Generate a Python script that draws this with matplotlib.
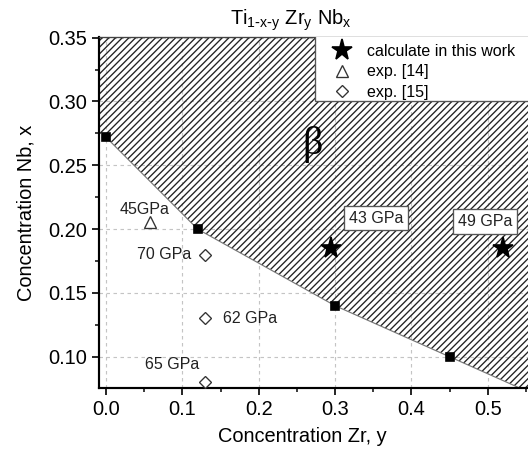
import matplotlib
matplotlib.use("Agg")
import matplotlib.pyplot as plt
from matplotlib.patches import Polygon, Rectangle
from matplotlib.ticker import MultipleLocator
import numpy as np

# Ti-Zr-Nb: beta-stability boundary and elastic moduli
boundary_zr = [0.0, 0.12, 0.30, 0.45]
boundary_nb = [0.272, 0.20, 0.14, 0.10]

calc_zr = [0.295, 0.52]
calc_nb = [0.185, 0.185]
calc_labels = ["43 GPa", "49 GPa"]

exp14_zr = [0.058]
exp14_nb = [0.2055]
exp14_labels = ["45GPa"]

exp15_zr = [0.13, 0.13, 0.13]
exp15_nb = [0.18, 0.13, 0.08]
exp15_labels = ["70 GPa", "62 GPa", "65 GPa"]

DPI = 120
plt.rcParams["font.family"] = ["Liberation Sans", "DejaVu Sans"]
plt.rcParams["hatch.linewidth"] = 0.8

fig = plt.figure(figsize=(528 / DPI, 450 / DPI), dpi=DPI)
ax = fig.add_axes([99 / 528, 62 / 450, 434.5 / 528, 351 / 450])

xmin, xmax = -0.0092, 0.56
ymin, ymax = 0.0755, 0.3505
ax.set_xlim(xmin, xmax)
ax.set_ylim(ymin, ymax)

# hatched beta region above the boundary, extended to the axes edges
slope = (boundary_nb[-1] - boundary_nb[-2]) / (boundary_zr[-1] - boundary_zr[-2])
right_nb = boundary_nb[-1] + slope * (xmax - boundary_zr[-1])
verts = [(xmin, boundary_nb[0])]
verts += list(zip(boundary_zr, boundary_nb))
verts += [(xmax, right_nb), (xmax, ymax), (xmin, ymax)]
ax.add_patch(Polygon(verts, closed=True, facecolor="none", edgecolor="#222222",
                     linewidth=0, hatch="//////", zorder=1))
ax.plot(boundary_zr + [xmax], boundary_nb + [right_nb], color="#777777", lw=0.7, zorder=2)
ax.plot(boundary_zr, boundary_nb, "s", color="black", ms=4.5, zorder=4)

ax.text(0.270, 0.2664, "β", fontsize=24, family="Liberation Serif",
        ha="center", va="center", zorder=4)

# legend background
ax.add_patch(Rectangle((0.274, 0.30), 0.4, 0.06, facecolor="white",
                       edgecolor="#555555", lw=0.8, zorder=3))

h_calc, = ax.plot(calc_zr, calc_nb, "*", color="black", ms=13, zorder=5,
                  label="calculate in this work")
h_14, = ax.plot(exp14_zr, exp14_nb, "^", mfc="white", mec="#333333", mew=0.8,
                ms=7.5, zorder=5, label="exp. [14]")
h_15, = ax.plot(exp15_zr, exp15_nb, "D", mfc="white", mec="#333333", mew=0.8,
                ms=5.5, zorder=5, label="exp. [15]")

box = dict(boxstyle="square,pad=0.3", facecolor="white", edgecolor="#555555", lw=0.8)
ax.text(0.3533, 0.2086, calc_labels[0], fontsize=9.6, ha="center", va="center",
        color="#222222", bbox=box, zorder=6)
ax.text(0.4965, 0.2059, calc_labels[1], fontsize=9.6, ha="center", va="center",
        color="#222222", bbox=box, zorder=6)

ax.text(0.050, 0.2156, exp14_labels[0], fontsize=9.6, ha="center", va="center",
        color="#222222", zorder=6)
ax.text(0.076, 0.18, exp15_labels[0], fontsize=9.6, ha="center", va="center",
        color="#222222", zorder=6)
ax.text(0.1886, 0.13, exp15_labels[1], fontsize=9.6, ha="center", va="center",
        color="#222222", zorder=6)
ax.text(0.086, 0.0937, exp15_labels[2], fontsize=9.6, ha="center", va="center",
        color="#222222", zorder=6)

leg = ax.legend(handles=[h_calc, h_14, h_15], loc="upper left",
                bbox_to_anchor=(0.2944, 0.3475), bbox_transform=ax.transData,
                frameon=False, fontsize=9.6, borderpad=0.2, borderaxespad=0,
                handlelength=1.0, handletextpad=1.05, labelspacing=0.33)
leg.set_zorder(7)

# axes styling
ax.xaxis.set_major_locator(MultipleLocator(0.1))
ax.xaxis.set_minor_locator(MultipleLocator(0.05))
ax.yaxis.set_major_locator(MultipleLocator(0.05))
ax.yaxis.set_minor_locator(MultipleLocator(0.025))
ax.set_yticks(np.arange(0.10, 0.351, 0.05))
ax.set_xticks(np.arange(0.0, 0.51, 0.1))
ax.xaxis.set_major_formatter(plt.FuncFormatter(lambda v, p: f"{v:.1f}"))
ax.yaxis.set_major_formatter(plt.FuncFormatter(lambda v, p: f"{v:.2f}"))
ax.tick_params(which="major", direction="out", length=4, width=1.0, labelsize=12, pad=3)
ax.tick_params(which="minor", direction="out", length=2.4, width=0.9)
ax.grid(True, which="major", color="#c4c4c4", linestyle=(0, (3, 3)), lw=0.7, zorder=0)
ax.set_axisbelow(True)

for side in ("left", "bottom"):
    ax.spines[side].set_linewidth(1.3)
ax.spines["top"].set_linewidth(0.8)
ax.spines["top"].set_color("#444444")

ax.set_xlabel("Concentration Zr, y", fontsize=12)
ax.set_ylabel("Concentration Nb, x", fontsize=12)
ax.xaxis.set_label_coords(0.467, -0.111)
ax.yaxis.set_label_coords(-0.147, 0.5)

fig.text(291 / 528, 1 - 20 / 450,
         r"Ti$_{\mathregular{1\text{-}x\text{-}y}}$ Zr$_{\mathregular{y}}$ Nb$_{\mathregular{x}}$",
         fontsize=12, ha="center", va="center")

fig.savefig("out.png", dpi=DPI)
